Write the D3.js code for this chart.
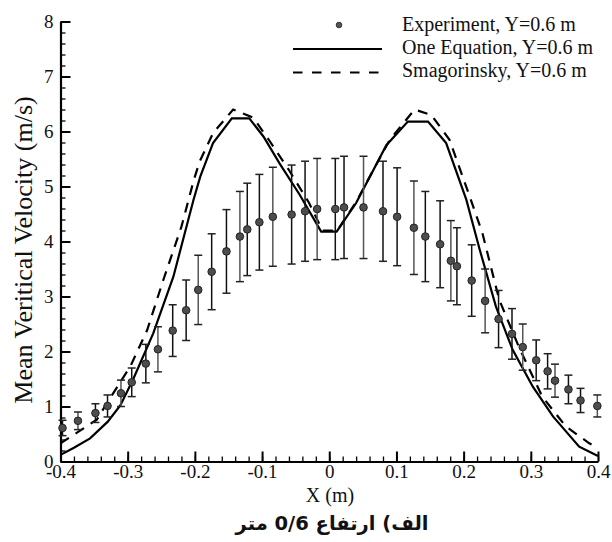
<!DOCTYPE html>
<html>
<head>
<meta charset="utf-8">
<script src="https://cdn.jsdelivr.net/npm/d3@7"></script>
<style>
  body { margin: 0; background: #fff; }
  svg text { font-family: "Liberation Serif", "Times New Roman", serif; fill: #111; }
</style>
</head>
<body>
<script>
/* Data */

// experiment, Y=0.6 m
var expX = [-0.397, -0.374, -0.348, -0.330, -0.310, -0.294, -0.273, -0.255, -0.233, -0.213, -0.195,
            -0.175, -0.153, -0.133, -0.122, -0.104, -0.084, -0.056, -0.036, -0.018, 0.009, 0.022,
            0.051, 0.080, 0.101, 0.126, 0.143, 0.165, 0.181, 0.190, 0.212, 0.232, 0.252, 0.272,
            0.288, 0.308, 0.325, 0.336, 0.356, 0.374, 0.399];
var expY = [0.61, 0.74, 0.88, 1.01, 1.24, 1.44, 1.78, 2.04, 2.38, 2.75, 3.12,
            3.45, 3.82, 4.09, 4.22, 4.35, 4.45, 4.49, 4.55, 4.59, 4.59, 4.62,
            4.62, 4.55, 4.45, 4.25, 4.09, 3.95, 3.65, 3.55, 3.29, 2.92, 2.59, 2.32,
            2.08, 1.84, 1.64, 1.47, 1.31, 1.11, 1.01];
var expErr = [0.14, 0.16, 0.17, 0.20, 0.24, 0.26, 0.35, 0.41, 0.47, 0.55, 0.63,
              0.69, 0.76, 0.82, 0.84, 0.87, 0.90, 0.90, 0.91, 0.92, 0.92, 0.93,
              0.93, 0.91, 0.89, 0.85, 0.82, 0.79, 0.73, 0.70, 0.65, 0.58, 0.52, 0.46,
              0.42, 0.37, 0.32, 0.30, 0.26, 0.22, 0.20];

// One Equation model
var oneX = [-0.4, -0.38, -0.356, -0.33, -0.311, -0.292, -0.262, -0.232, -0.202, -0.192, -0.173,
            -0.145, -0.119, -0.098, -0.074, -0.044, -0.012, 0.011, 0.04, 0.085, 0.117, 0.147,
            0.174, 0.204, 0.224, 0.248, 0.273, 0.303, 0.333, 0.372, 0.4];
var oneY = [0.12, 0.25, 0.42, 0.72, 1.02, 1.49, 2.33, 3.36, 4.76, 5.18, 5.79,
            6.24, 6.24, 5.91, 5.42, 4.85, 4.18, 4.18, 4.7, 5.75, 6.18, 6.18,
            5.79, 4.76, 3.85, 2.82, 2.03, 1.36, 0.82, 0.27, 0.1];

// Smagorinsky model
var smagX = [-0.4, -0.376, -0.346, -0.331, -0.296, -0.271, -0.247, -0.22, -0.202, -0.193, -0.173,
             -0.143, -0.113, -0.09, -0.06, -0.03, -0.01, 0.012, 0.04, 0.09, 0.127, 0.152,
             0.179, 0.209, 0.228, 0.253, 0.282, 0.317, 0.352, 0.387, 0.4];
var smagY = [0.33, 0.52, 0.76, 1.06, 1.73, 2.39, 3.3, 4.27, 5.1, 5.45, 5.97,
             6.4, 6.25, 5.85, 5.3, 4.7, 4.2, 4.2, 4.72, 5.85, 6.4, 6.3,
             5.85, 4.82, 4.15, 2.94, 2.09, 1.18, 0.64, 0.33, 0.25];

var xTicks = [-0.4, -0.3, -0.2, -0.1, 0, 0.1, 0.2, 0.3, 0.4];
var yTicks = [0, 1, 2, 3, 4, 5, 6, 7, 8];
var legendLabels = ["Experiment, Y=0.6 m", "One Equation, Y=0.6 m", "Smagorinsky, Y=0.6 m"];
var caption = "الف) ارتفاع 0/6 متر";


/* Chart */

var width = 612, height = 542;

var svg = d3.select("body").append("svg")
    .attr("width", width)
    .attr("height", height);

var x = d3.scaleLinear().domain([-0.4, 0.4]).range([60.5, 598]);
var y = d3.scaleLinear().domain([0, 8]).range([461.5, 21.5]);

function fmtX(d) { return d === 0 ? "0" : d.toFixed(1); }

// minor ticks
svg.append("g")
    .attr("transform", "translate(0," + y(0) + ")")
    .call(d3.axisBottom(x).tickValues(d3.range(-40, 41, 2).map(function(d) { return d / 100; }))
        .tickSize(-5).tickFormat(""))
    .call(function(g) { g.select(".domain").remove(); })
    .selectAll("line").attr("stroke-width", 1.3);

svg.append("g")
    .attr("transform", "translate(" + x(-0.4) + ",0)")
    .call(d3.axisLeft(y).tickValues(d3.range(0, 41, 1).map(function(d) { return d / 5; }))
        .tickSize(-5).tickFormat(""))
    .call(function(g) { g.select(".domain").remove(); })
    .selectAll("line").attr("stroke-width", 1.3);

// major ticks + labels
var xAxis = svg.append("g")
    .attr("transform", "translate(0," + y(0) + ")")
    .call(d3.axisBottom(x).tickValues(xTicks).tickFormat(fmtX)
        .tickSizeInner(-10).tickSizeOuter(0).tickPadding(3));

var yAxis = svg.append("g")
    .attr("transform", "translate(" + x(-0.4) + ",0)")
    .call(d3.axisLeft(y).tickValues(yTicks).tickFormat(d3.format("d"))
        .tickSizeInner(-10).tickSizeOuter(0).tickPadding(7));

[xAxis, yAxis].forEach(function(g) {
    g.select(".domain").attr("stroke-width", 2.2).attr("stroke", "#000");
    g.selectAll(".tick line").attr("stroke-width", 2).attr("stroke", "#000");
    g.selectAll(".tick text")
        .attr("font-family", "Liberation Serif, Times New Roman, serif")
        .attr("font-size", 19)
        .attr("fill", "#111");
});

// lines
var line = d3.line()
    .x(function(d) { return x(d[0]); })
    .y(function(d) { return y(d[1]); });

svg.append("path")
    .datum(d3.zip(smagX, smagY))
    .attr("d", line)
    .attr("fill", "none")
    .attr("stroke", "#000")
    .attr("stroke-width", 2.2)
    .attr("stroke-dasharray", "10,8");

svg.append("path")
    .datum(d3.zip(oneX, oneY))
    .attr("d", line)
    .attr("fill", "none")
    .attr("stroke", "#000")
    .attr("stroke-width", 2.2);

// experiment with error bars
var expData = expX.map(function(d, i) { return { x: d, y: expY[i], e: expErr[i] }; });

var pts = svg.append("g").selectAll("g")
    .data(expData)
    .enter().append("g")
    .attr("transform", function(d) { return "translate(" + x(d.x) + ",0)"; });

pts.append("line")
    .attr("y1", function(d) { return y(d.y - d.e); })
    .attr("y2", function(d) { return y(d.y + d.e); })
    .attr("stroke", function(d, i) { return i % 3 == 1 ? "#555" : "#111"; })
    .attr("stroke-width", 1.5);

pts.append("line")
    .attr("x1", -4).attr("x2", 4)
    .attr("y1", function(d) { return y(d.y + d.e); })
    .attr("y2", function(d) { return y(d.y + d.e); })
    .attr("stroke", "#222").attr("stroke-width", 1.5);

pts.append("line")
    .attr("x1", -4).attr("x2", 4)
    .attr("y1", function(d) { return y(d.y - d.e); })
    .attr("y2", function(d) { return y(d.y - d.e); })
    .attr("stroke", "#222").attr("stroke-width", 1.5);

pts.append("circle")
    .attr("cy", function(d) { return y(d.y); })
    .attr("r", 3.8)
    .attr("fill", "#4d4d4d")
    .attr("stroke", "#222")
    .attr("stroke-width", 1);

// legend
var legend = svg.append("g");

legend.append("circle")
    .attr("cx", 339).attr("cy", 25).attr("r", 2.8)
    .attr("fill", "#555").attr("stroke", "#333");

legend.append("line")
    .attr("x1", 293).attr("x2", 382).attr("y1", 49).attr("y2", 49)
    .attr("stroke", "#000").attr("stroke-width", 2.2);

legend.append("line")
    .attr("x1", 293).attr("x2", 382).attr("y1", 72.5).attr("y2", 72.5)
    .attr("stroke", "#000").attr("stroke-width", 2.2)
    .attr("stroke-dasharray", "9.5,9.5");

legend.selectAll("text")
    .data(legendLabels)
    .enter().append("text")
    .attr("x", 402)
    .attr("y", function(d, i) { return 30.5 + i * 23.3; })
    .attr("font-size", 20)
    .text(function(d) { return d; });

// axis titles
svg.append("text")
    .attr("transform", "translate(32,250) rotate(-90)")
    .attr("text-anchor", "middle")
    .attr("font-size", 26)
    .text("Mean Veritical Velocity (m/s)");

svg.append("text")
    .attr("x", 330).attr("y", 501.5)
    .attr("text-anchor", "middle")
    .attr("font-size", 20)
    .text("X (m)");

// caption
svg.append("text")
    .attr("x", 332).attr("y", 530)
    .attr("text-anchor", "middle")
    .attr("font-size", 19.5)
    .attr("font-weight", "bold")
    .style("font-family", "DejaVu Sans, Noto Sans, sans-serif")
    .text(caption);
</script>
</body>
</html>
